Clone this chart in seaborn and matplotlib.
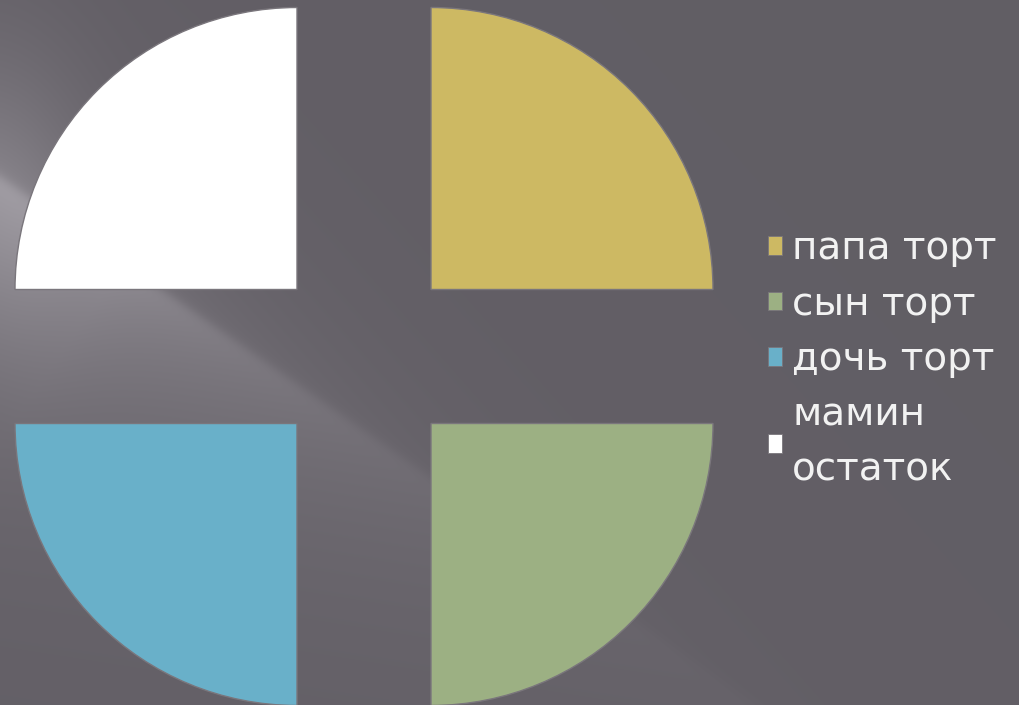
import numpy as np
import matplotlib
matplotlib.use("Agg")
import matplotlib.pyplot as plt
import seaborn as sns

# Data
labels = ["папа торт", "сын торт", "дочь торт", "мамин\nостаток"]
shares = [25, 25, 25, 25]
colors = ["#cdb963", "#9cb083", "#69b0c9", "#ffffff"]
explode = [0.336, 0.336, 0.336, 0.336]

sns.set_theme(style="white")
plt.rcParams['font.family'] = ['DejaVu Sans']

W, H = 1020, 705
fig = plt.figure(figsize=(W / 100, H / 100), dpi=100)
fig.patch.set_facecolor("#625e65")

# -------------------------------
# Background with a light diagonal streak
# -------------------------------
bg = fig.add_axes([0, 0, 1, 1])
yy, xx = np.mgrid[0:H:2, 0:W:2].astype(float)
n = np.hypot(1, 0.7)
ux, uy = 1 / n, 0.7 / n
px, py = xx, yy - 177
along = px * ux + py * uy
dist = py * ux - px * uy          # > 0 below the edge line
edge = 1 / (1 + np.exp(-dist / 3))
below = np.exp(-np.clip(dist, 0, None) / 160)
above = 0.4 * np.exp(np.clip(dist, None, 0) / 80)
glow = (edge * below + (1 - edge) * above) * np.exp(-np.clip(along - 150, 0, None) / 330)
glow += 0.4 * np.exp(-(xx / 90) ** 2) * np.exp(-((yy - 200) / 160) ** 2)
base = np.array([0.384, 0.369, 0.396])
img = base[None, None, :] + 0.18 * glow[..., None]
bg.imshow(np.clip(img, 0, 1), extent=[0, W, H, 0], interpolation="bilinear", aspect="auto")
bg.set_xlim(0, W)
bg.set_ylim(H, 0)
bg.axis("off")

# -------------------------------
# Exploded pie
# -------------------------------
r_px = 282
cx, cy = 364, H - 356.5
span = 1.5
ax = fig.add_axes([(cx - span * r_px) / W, (cy - span * r_px) / H,
                   2 * span * r_px / W, 2 * span * r_px / H])
wedges, _ = ax.pie(shares, colors=colors, explode=explode, startangle=90,
                   counterclock=False, radius=1,
                   wedgeprops=dict(edgecolor="#7a767c", linewidth=1.0))
ax.set_xlim(-span, span)
ax.set_ylim(-span, span)
ax.set_aspect("equal")
ax.axis("off")

# -------------------------------
# Legend
# -------------------------------
fs = 28
leg = fig.legend(wedges, labels, loc="center left", bbox_to_anchor=(749 / W, 1 - 359 / H),
                 frameon=False, fontsize=fs, handlelength=0.36, handleheight=0.36,
                 handletextpad=0.25, labelspacing=0.45, borderpad=0)
for t in leg.get_texts():
    t.set_color("#f2f2f2")
    t.set_linespacing(1.55)
for h in leg.legend_handles:
    h.set_edgecolor("#7a767c")
    h.set_linewidth(0.6)

fig.savefig("out.png", dpi=100, facecolor=fig.get_facecolor())
